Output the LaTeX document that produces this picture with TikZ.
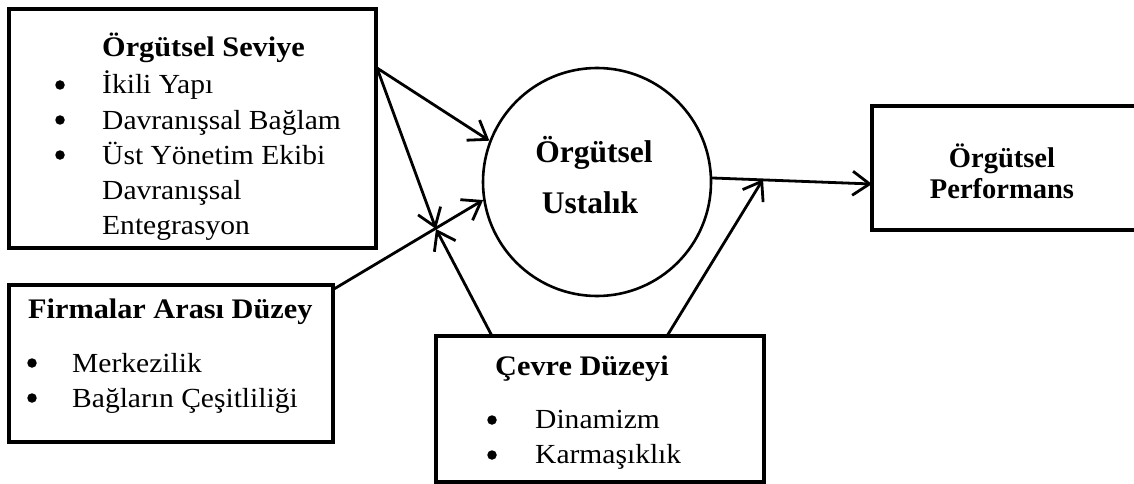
\documentclass[tikz,border=0pt]{standalone}
\usepackage{fontspec}
\setmainfont{Liberation Serif}
\newfontfamily\wideserif{Liberation Serif}[FakeStretch=1.07]
\usetikzlibrary{arrows.meta}
\begin{document}
\begin{tikzpicture}[x=1pt,y=-1pt,
  frame/.style={draw,line width=3.2pt,rectangle,inner sep=0pt},
  hub/.style={draw,line width=2.6pt,circle,inner sep=0pt,minimum size=228pt},
  head/.style={anchor=base west,inner sep=0pt,font=\wideserif\fontsize{28.3}{32}\selectfont\bfseries},
  entry/.style={anchor=base west,inner sep=0pt,font=\wideserif\fontsize{27.6}{32}\selectfont},
  bigbold/.style={anchor=base,inner sep=0pt,font=\fontsize{31.5}{36}\selectfont\bfseries},
  midbold/.style={anchor=base,inner sep=0pt,font=\fontsize{28.5}{34}\selectfont\bfseries},
  dot/.style={fill,circle,inner sep=0pt,minimum size=9.5pt},
  link/.style={line width=2.8pt,line cap=round,-{Straight Barb[length=17pt,width=24pt,line width=2.8pt]}}]
\useasboundingbox (0,0) rectangle (1134,484);
\begin{scope}
\clip (0,0) rectangle (1134,484);

% boxes and the central circle
\node[frame,minimum width=367pt,minimum height=239pt] (org) at (192.5,128.5) {};
\node[frame,minimum width=324pt,minimum height=157pt] (firm) at (171,363.5) {};
\node[frame,minimum width=328pt,minimum height=146pt] (env) at (600,409) {};
\node[frame,minimum width=273pt,minimum height=124pt] (perf) at (1008.5,168) {};
\node[hub] (amb) at (597,182) {};

% Örgütsel Seviye
\node[head] (orgh) at (102,57) {Örgütsel Seviye};
\node[dot] (ob1) at (60,85) {};
\node[dot] (ob2) at (60,120) {};
\node[dot] (ob3) at (60,155) {};
\node[entry] (o1) at (102,94) {İkili Yapı};
\node[entry] (o2) at (102,129) {Davranışsal Bağlam};
\node[entry] (o3) at (102,164) {Üst Yönetim Ekibi};
\node[entry] (o4) at (102,199) {Davranışsal};
\node[entry] (o5) at (102,234) {Entegrasyon};

% Firmalar Arası Düzey
\node[head] (firmh) at (28,318) {Firmalar Arası Düzey};
\node[dot] (fb1) at (32,363) {};
\node[dot] (fb2) at (32,398) {};
\node[entry] (f1) at (72,372) {Merkezilik};
\node[entry] (f2) at (72,407) {Bağların Çeşitliliği};

% Çevre Düzeyi
\node[head] (envh) at (495,375) {Çevre Düzeyi};
\node[dot] (eb1) at (492,420) {};
\node[dot] (eb2) at (492,455) {};
\node[entry] (e1) at (535,428) {Dinamizm};
\node[entry] (e2) at (535,463) {Karmaşıklık};

% centre and outcome labels
\node[bigbold] (amb1) at (594,162) {Örgütsel};
\node[bigbold] (amb2) at (590,213) {Ustalık};
\node[midbold] (perf1) at (1002,167) {Örgütsel};
\node[midbold] (perf2) at (1002,198) {Performans};

% connector end points
\coordinate (orgout) at (377,68);
\coordinate (firmout) at (334,289);
\coordinate (join) at (436,229);
\coordinate (envoutL) at (492,336);
\coordinate (envoutR) at (667,336);
\coordinate (perfin) at (872,184);
\coordinate (merge) at (763,179.3);

% connectors
\draw[link] (orgout) -- (amb.159.5);
\draw[link] (orgout) -- (join);
\draw[link] (firmout) -- (amb.189.3);
\draw[link] (envoutL) -- (join);
\draw[link] (amb.2.5) -- (perfin);
\draw[link] (envoutR) -- (merge);
\end{scope}
\end{tikzpicture}
\end{document}
